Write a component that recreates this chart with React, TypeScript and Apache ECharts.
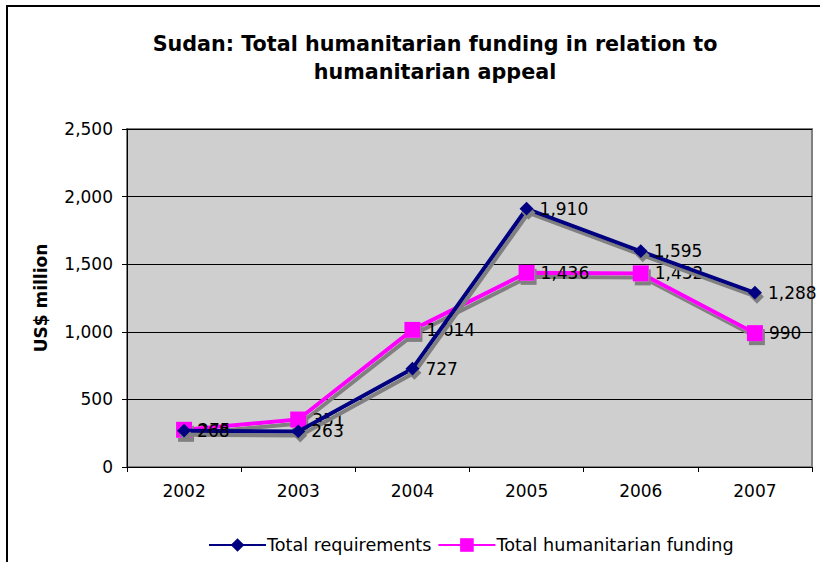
import React, { useEffect, useRef } from "react";
import * as echarts from "echarts";

const years = ["2002", "2003", "2004", "2005", "2006", "2007"];
const totalRequirements = [268, 263, 727, 1910, 1595, 1288];
const totalFunding = [275, 351, 1014, 1436, 1432, 990];

const titleText = "Sudan: Total humanitarian funding in relation to\nhumanitarian appeal";
const yAxisName = "US$ million";

const fmt = (v: number) => v.toLocaleString("en-US");

export default function App() {
  const ref = useRef<HTMLDivElement>(null);
  useEffect(() => {
    if (!ref.current) return;
    const chart = echarts.init(ref.current, null, { renderer: "svg" });
    const font = "'DejaVu Sans', sans-serif";
    const shadow = {
      shadowColor: "#808080",
      shadowBlur: 0,
      shadowOffsetX: 2,
      shadowOffsetY: 4,
    };
    const labelCfg = {
      show: true,
      position: "right",
      distance: 6,
      fontFamily: font,
      fontSize: 17,
      color: "#000",
      formatter: (p: any) => fmt(p.value),
    };
    chart.setOption({
      animation: false,
      backgroundColor: "#ffffff",
      textStyle: { fontFamily: font },
      title: {
        text: titleText,
        left: 430,
        top: 25,
        textAlign: "center",
        textStyle: {
          fontFamily: font,
          fontSize: 20.7,
          fontWeight: "bold",
          color: "#000",
          lineHeight: 28,
        },
      },
      graphic: [
        {
          type: "rect",
          shape: { x: 7, y: 6, width: 830, height: 600 },
          style: { fill: "none", stroke: "#000", lineWidth: 2 },
          silent: true,
          z: 100,
        },
      ],
      legend: {
        bottom: 3,
        left: 203,
        itemGap: 6,
        itemWidth: 57,
        itemHeight: 17,
        textStyle: { fontFamily: font, fontSize: 17.6, color: "#000", padding: [0, 0, 0, -4] },
        data: ["Total requirements", "Total humanitarian funding"],
      },
      grid: { left: 127, right: 8, top: 129, bottom: 95, show: true, backgroundColor: "#CFCFCF", borderColor: "#808080", borderWidth: 2 },
      xAxis: {
        type: "category",
        data: years,
        boundaryGap: true,
        axisLine: { show: true, lineStyle: { color: "#000", width: 1 } },
        axisTick: { show: true, alignWithLabel: false, length: 5, lineStyle: { color: "#000" } },
        axisLabel: { fontFamily: font, fontSize: 17, color: "#000", margin: 15 },
      },
      yAxis: {
        type: "value",
        min: 0,
        max: 2500,
        interval: 500,
        name: yAxisName,
        nameLocation: "middle",
        nameGap: 78,
        nameTextStyle: { fontFamily: font, fontSize: 17, fontWeight: "bold", color: "#000" },
        axisLine: { show: true, lineStyle: { color: "#000", width: 1 } },
        axisTick: { show: true, length: 5, lineStyle: { color: "#000" } },
        axisLabel: { fontFamily: font, fontSize: 17, color: "#000", margin: 14, formatter: (v: number) => fmt(v) },
        splitLine: { show: true, lineStyle: { color: "#000", width: 1 } },
      },
      series: [
        {
          name: "Total requirements",
          type: "line",
          data: totalRequirements,
          symbol: "diamond",
          symbolSize: 14,
          color: "#000080",
          lineStyle: { color: "#000080", width: 4, ...shadow },
          itemStyle: { color: "#000080", ...shadow },
          label: labelCfg,
          z: 3,
        },
        {
          name: "Total humanitarian funding",
          type: "line",
          data: totalFunding,
          symbol: "rect",
          symbolSize: 16,
          color: "#FF00FF",
          lineStyle: { color: "#FF00FF", width: 4, ...shadow },
          itemStyle: { color: "#FF00FF", ...shadow },
          label: labelCfg,
          z: 2,
        },
      ],
    });
    return () => chart.dispose();
  }, []);
  return <div ref={ref} style={{ width: 820, height: 562, position: "absolute", left: 0, top: 0 }} />;
}
